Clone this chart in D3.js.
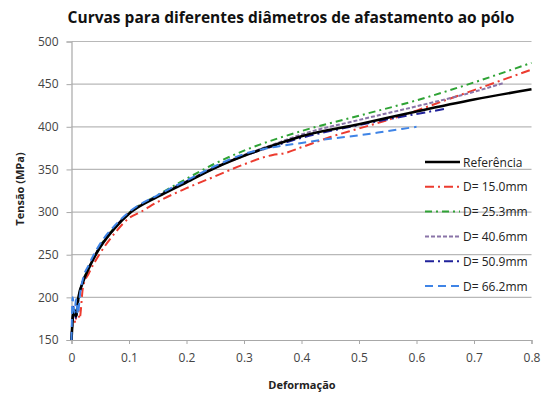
<!DOCTYPE html>
<html>
  <head>
    <meta charset="utf-8">
    <title>Curvas para diferentes diâmetros</title>
    <script type="text/javascript" src="https://d3js.org/d3.v7.min.js"></script>
    <style>
      body { margin: 0; background: #fff; }
      text { font-family: "Open Sans", Lato, sans-serif; }
    </style>
  </head>
  <body>
    <svg></svg>
    <script type="text/javascript">
      "use strict";

      var xTicks = [0, 0.1, 0.2, 0.3, 0.4, 0.5, 0.6, 0.7, 0.8];
      var yTicks = [150, 200, 250, 300, 350, 400, 450, 500];

      var names = ["Referência", "D= 15.0mm", "D= 25.3mm", "D= 40.6mm", "D= 50.9mm", "D= 66.2mm"];
      var colors = ["#000000", "#ec3b2f", "#2fa335", "#8a74a8", "#20229a", "#3f84e6"];
      var dashes = [null, "9,4,2,4", "7,4,2,4", "4,2", "9,4,2,4", "8,5"];
      var widths = [2.6, 2, 2, 2, 2, 2];

      // readings: [strain, stress]
      var ref = [[0, 150], [0.004, 185], [0.008, 178], [0.012, 200], [0.02, 218], [0.03, 234], [0.05, 259],
                 [0.075, 281], [0.1, 298], [0.15, 318], [0.2, 335], [0.25, 352], [0.3, 366], [0.35, 378],
                 [0.4, 389], [0.5, 403], [0.6, 418], [0.7, 432], [0.8, 444]];
      var d150 = [[0, 150], [0.003, 180], [0.007, 170], [0.01, 195], [0.014, 175], [0.02, 212], [0.03, 228],
                  [0.05, 252], [0.075, 275], [0.1, 293], [0.12, 300], [0.15, 312], [0.2, 328], [0.25, 342],
                  [0.3, 356], [0.35, 367], [0.37, 369], [0.4, 376], [0.45, 388], [0.5, 398], [0.55, 408],
                  [0.6, 419], [0.65, 431], [0.7, 443], [0.75, 455], [0.8, 467]];
      var d253 = [[0, 150], [0.004, 188], [0.008, 176], [0.012, 198], [0.02, 219], [0.03, 235], [0.05, 260],
                  [0.075, 282], [0.1, 299], [0.15, 320], [0.2, 339], [0.25, 357], [0.3, 372], [0.4, 395],
                  [0.5, 413], [0.6, 431], [0.7, 452], [0.8, 475]];
      var d406 = [[0, 150], [0.004, 186], [0.008, 177], [0.012, 199], [0.02, 218], [0.03, 234], [0.05, 259],
                  [0.075, 281], [0.1, 298], [0.15, 319], [0.2, 336], [0.25, 353], [0.3, 367], [0.35, 379],
                  [0.4, 391], [0.5, 408], [0.6, 424], [0.7, 441], [0.75, 451]];
      var d509 = [[0, 150], [0.004, 190], [0.008, 175], [0.012, 197], [0.02, 219], [0.03, 235], [0.05, 260],
                  [0.075, 282], [0.1, 299], [0.15, 319], [0.2, 336], [0.25, 352], [0.3, 366], [0.35, 377],
                  [0.4, 387], [0.5, 402], [0.6, 415], [0.65, 421]];
      var d662 = [[0, 150], [0.002, 200], [0.005, 182], [0.008, 198], [0.011, 180], [0.015, 205], [0.02, 222],
                  [0.03, 238], [0.05, 263], [0.075, 284], [0.1, 300], [0.15, 320], [0.2, 337], [0.25, 354],
                  [0.3, 368], [0.35, 376], [0.4, 381], [0.45, 386], [0.5, 390], [0.55, 395], [0.6, 400]];
      var series = [ref, d150, d253, d406, d509, d662];

      var W = 543, H = 396;
      var m = { left: 71.5, right: 11.5, top: 41.5, bottom: 56 };

      var svg = d3.select("svg").attr("width", W).attr("height", H);

      var x = d3.scaleLinear().domain([0, 0.8]).range([m.left, W - m.right]);
      var y = d3.scaleLinear().domain([150, 500]).range([H - m.bottom, m.top]);

      // horizontal gridlines
      svg.append("g").selectAll("line")
         .data(yTicks.slice(1))
         .enter().append("line")
         .attr("x1", x(0)).attr("x2", x(0.8))
         .attr("y1", function(d) { return y(d); })
         .attr("y2", function(d) { return y(d); })
         .attr("stroke", "#b8b8b8").attr("stroke-width", 1.2);

      var xAxis = svg.append("g")
                     .attr("transform", "translate(0," + y(150) + ")")
                     .call(d3.axisBottom(x).tickValues(xTicks).tickSize(4).tickPadding(9)
                             .tickFormat(function(d) { return d === 0 ? "0" : d3.format(".1f")(d); }));
      var yAxis = svg.append("g")
                     .attr("transform", "translate(" + x(0) + ",0)")
                     .call(d3.axisLeft(y).tickValues(yTicks).tickSize(5).tickPadding(8));

      [xAxis, yAxis].forEach(function(g) {
        g.select(".domain").attr("stroke", "#a8a8a8").attr("stroke-width", 1.2);
        g.selectAll(".tick line").attr("stroke", "#a8a8a8");
        g.selectAll(".tick text").attr("fill", "#444").style("font-size", "12px")
         .style("font-family", "'Open Sans', sans-serif");
      });

      var line = d3.line()
                   .x(function(d) { return x(d[0]); })
                   .y(function(d) { return y(d[1]); })
                   .curve(d3.curveMonotoneX);

      // draw reference last so it sits on top like the original? original shows blue on top early
      var order = [1, 2, 3, 4, 0, 5];
      order.forEach(function(i) {
        svg.append("path")
           .datum(series[i])
           .attr("d", line)
           .attr("fill", "none")
           .attr("stroke", colors[i])
           .attr("stroke-width", widths[i])
           .attr("stroke-dasharray", dashes[i]);
      });

      // legend
      var leg = svg.append("g");
      names.forEach(function(n, i) {
        var ly = 162 + i * 24.8;
        leg.append("line")
           .attr("x1", 425).attr("x2", 460)
           .attr("y1", ly).attr("y2", ly)
           .attr("stroke", colors[i])
           .attr("stroke-width", widths[i])
           .attr("stroke-dasharray", dashes[i]);
        leg.append("text")
           .attr("x", 463).attr("y", ly + 4.5)
           .attr("fill", "#222")
           .style("font-size", "12px")
           .text(n);
      });

      svg.append("text")
         .attr("x", 291).attr("y", 23)
         .attr("text-anchor", "middle")
         .style("font-size", "15.5px").style("font-weight", "bold")
         .attr("fill", "#111")
         .text("Curvas para diferentes diâmetros de afastamento ao pólo");

      svg.append("text")
         .attr("x", 302).attr("y", 389)
         .attr("text-anchor", "middle")
         .style("font-size", "11px").style("font-weight", "bold")
         .attr("fill", "#222")
         .text("Deformação");

      svg.append("text")
         .attr("transform", "translate(24,189) rotate(-90)")
         .attr("text-anchor", "middle")
         .style("font-size", "11px").style("font-weight", "bold")
         .attr("fill", "#222")
         .text("Tensão (MPa)");
    </script>
  </body>
</html>
